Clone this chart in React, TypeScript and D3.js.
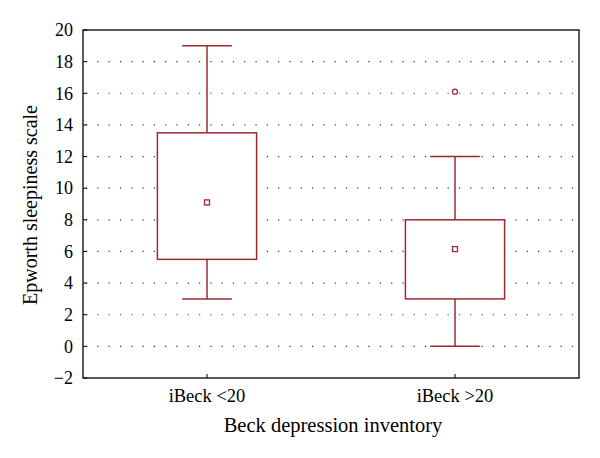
import React from "react";
import * as d3 from "d3";

const categories = ["iBeck <20", "iBeck >20"];
const q1 = [5.5, 3];
const q3 = [13.5, 8];
const whiskerLow = [3, 0];
const whiskerHigh = [19, 12];
const means = [9.1, 6.15];
const outliers = [[], [16.1]];
const yTicks = [-2, 0, 2, 4, 6, 8, 10, 12, 14, 16, 18, 20];

const W = 600, H = 458;
const L = 83, R = 579, T = 30, B = 378;
const color = "#9b2b30";
const font = "'Liberation Serif', 'DejaVu Serif', serif";

export default function App() {
  const y = d3.scaleLinear().domain([-2, 20]).range([B, T]);
  const x = d3.scalePoint().domain(categories).range([L, R]).padding(0.5);
  const step = x.step();
  const boxW = step * 0.4;
  const capW = step * 0.2;
  const fmt = (v: number) => (v < 0 ? "\u2212" + Math.abs(v) : String(v));
  return (
    <svg width={W} height={H} style={{ position: "absolute", left: 0, top: 0 }}>
      <rect width={W} height={H} fill="#fff" />
      {yTicks.filter((t) => t > -2 && t < 20).map((t) => (
        <line key={"g" + t} x1={L} x2={R} y1={y(t)} y2={y(t)} stroke="#333" strokeWidth={1.2}
          strokeDasharray="1.2 10.1" strokeDashoffset={-3} />
      ))}
      {yTicks.map((t) => (
        <g key={"t" + t}>
          <line x1={L} x2={L + 4} y1={y(t)} y2={y(t)} stroke="#000" />
          <text x={73} y={y(t)} dy="0.35em" textAnchor="end" fontFamily={font} fontSize={18}>{fmt(t)}</text>
        </g>
      ))}
      {categories.map((c, i) => {
        const cx = x(c)!;
        return (
          <g key={c}>
            <line x1={cx} x2={cx} y1={B} y2={B - 4} stroke="#000" />
            <text x={cx} y={402} textAnchor="middle" fontFamily={font} fontSize={18.5}>{c}</text>
            <line x1={cx} x2={cx} y1={y(whiskerHigh[i])} y2={y(q3[i])} stroke={color} strokeWidth={1.5} />
            <line x1={cx} x2={cx} y1={y(q1[i])} y2={y(whiskerLow[i])} stroke={color} strokeWidth={1.5} />
            <line x1={cx - capW / 2} x2={cx + capW / 2} y1={y(whiskerHigh[i])} y2={y(whiskerHigh[i])} stroke={color} strokeWidth={1.5} />
            <line x1={cx - capW / 2} x2={cx + capW / 2} y1={y(whiskerLow[i])} y2={y(whiskerLow[i])} stroke={color} strokeWidth={1.5} />
            <rect x={cx - boxW / 2} y={y(q3[i])} width={boxW} height={y(q1[i]) - y(q3[i])} fill="#fff" stroke={color} strokeWidth={1.5} />
            <rect x={cx - 2.5} y={y(means[i]) - 2.5} width={5} height={5} fill="#fff" stroke={color} strokeWidth={1.3} />
            {outliers[i].map((o, j) => (
              <circle key={j} cx={cx} cy={y(o)} r={2.5} fill="#fff" stroke={color} strokeWidth={1.3} />
            ))}
          </g>
        );
      })}
      <rect x={L} y={T} width={R - L} height={B - T} fill="none" stroke="#000" strokeWidth={1.3} />
      <text x={333} y={432} textAnchor="middle" fontFamily={font} fontSize={20.5}>Beck depression inventory</text>
      <text transform={`translate(37,205) rotate(-90)`} textAnchor="middle" fontFamily={font} fontSize={20}>Epworth sleepiness scale</text>
    </svg>
  );
}
